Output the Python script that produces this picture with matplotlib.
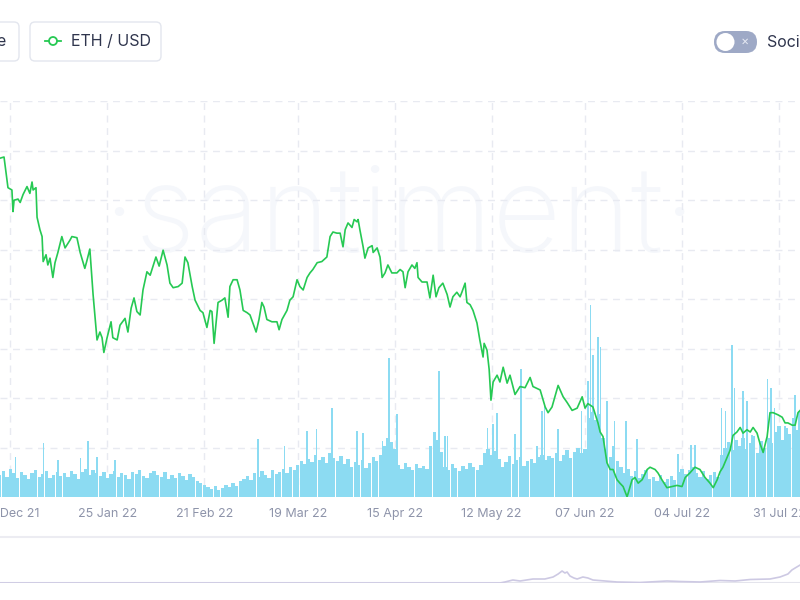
import numpy as np
import pandas as pd
import matplotlib
matplotlib.use("Agg")
import matplotlib.pyplot as plt
from matplotlib.patches import FancyBboxPatch, Circle

plt.rcParams['font.family'] = ['Inter', 'DejaVu Sans']

START = pd.Timestamp("2021-12-29")

# ETH / USD price, x = days since 29 Dec 21
eth_day = [-2.9, -1.8, -0.7, 0.4, 0.7, 1.0, 2.1, 2.7, 3.5, 4.6,
           5.4, 6.0, 6.3, 7.1, 7.4, 8.2, 8.8, 9.1, 9.9, 10.4,
           11.0, 11.8, 12.4, 13.2, 14.3, 15.2, 16.6, 17.1, 18.5, 19.4,
           20.7, 21.3, 22.1, 22.7, 23.0, 24.1, 24.9, 25.5, 26.0, 26.9,
           28.0, 28.5, 29.7, 30.5, 31.9, 32.7, 33.6, 34.4, 35.2, 36.1,
           36.9, 38.0, 38.9, 40.5, 41.4, 42.5, 43.6, 44.4, 45.3, 46.7,
           47.8, 48.6, 49.4, 50.6, 51.4, 52.8, 53.6, 54.7, 55.6, 56.1,
           56.7, 57.8, 58.9, 59.7, 60.6, 61.1, 62.0, 63.1, 63.9, 64.8,
           65.9, 66.7, 67.5, 68.4, 69.2, 70.0, 70.6, 71.4, 72.8, 74.2,
           74.8, 75.6, 77.0, 77.8, 78.7, 79.8, 80.6, 81.5, 82.6, 83.4,
           84.2, 85.4, 86.7, 88.1, 89.0, 89.8, 90.9, 91.8, 92.6, 93.2,
           94.0, 95.1, 95.7, 96.5, 96.8, 97.3, 98.2, 98.7, 99.6, 100.7,
           101.0, 102.1, 102.9, 103.5, 104.3, 105.1, 106.2, 107.6, 108.5, 109.3,
           109.9, 110.7, 111.8, 112.6, 113.2, 113.5, 114.6, 116.0, 116.8, 117.7,
           118.5, 119.3, 120.4, 121.6, 122.4, 123.2, 124.3, 125.2, 125.7, 126.6,
           127.1, 128.0, 128.8, 129.9, 130.7, 131.6, 131.9, 132.7, 133.3, 133.8,
           134.4, 135.5, 136.3, 137.2, 138.3, 139.1, 140.5, 141.9, 143.3, 144.7,
           145.5, 147.5, 148.9, 149.7, 150.8, 152.5, 153.9, 155.0, 156.4, 157.8,
           159.2, 160.0, 160.8, 162.2, 163.6, 164.2, 165.0, 166.1, 167.0, 167.8,
           168.9, 169.7, 170.6, 171.7, 172.0, 173.1, 173.9, 174.8, 175.9, 177.3,
           178.1, 179.5, 180.3, 181.4, 182.8, 184.2, 185.6, 187.0, 187.9, 189.2,
           190.6, 192.0, 193.4, 194.8, 195.7, 196.8, 197.6, 198.4, 199.6, 200.4,
           201.2, 202.3, 203.2, 204.0, 205.1, 206.0, 206.8, 207.9, 208.7, 209.6,
           210.7, 211.5, 212.4, 213.8, 214.9, 215.7, 216.5, 217.7, 218.5, 219.3, 219.9]
eth_price = [3990, 4000, 3730, 3710, 3520, 3620, 3630, 3600, 3670, 3740,
             3680, 3780, 3710, 3730, 3470, 3360, 3300, 3080, 3140, 3050,
             3110, 2940, 3070, 3160, 3300, 3200, 3270, 3300, 3290, 3160,
             3020, 3090, 3190, 2920, 2790, 2390, 2460, 2410, 2280, 2410,
             2550, 2410, 2390, 2520, 2580, 2460, 2670, 2760, 2640, 2610,
             2830, 2990, 2960, 3120, 3040, 3180, 3050, 2890, 2850, 2860,
             2890, 3120, 3070, 2860, 2740, 2650, 2630, 2500, 2650, 2640,
             2360, 2720, 2740, 2760, 2590, 2860, 2920, 2920, 2830, 2650,
             2630, 2610, 2540, 2460, 2570, 2720, 2680, 2570, 2550, 2550,
             2480, 2570, 2650, 2740, 2770, 2920, 2860, 2830, 2940, 2980,
             3010, 3070, 3080, 3120, 3300, 3340, 3330, 3330, 3210, 3360,
             3420, 3380, 3450, 3430, 3450, 3360, 3210, 3110, 3200, 3220,
             3160, 3200, 3120, 2940, 2980, 3050, 2980, 2980, 3010, 2990,
             2850, 2990, 3050, 3020, 3070, 2940, 2900, 2900, 2760, 2960,
             2770, 2850, 2890, 2790, 2680, 2770, 2810, 2770, 2810, 2890,
             2720, 2700, 2650, 2540, 2390, 2240, 2360, 2300, 2130, 1860,
             2020, 2080, 2020, 2150, 2010, 2080, 1910, 1980, 1970, 2060,
             1980, 1950, 1800, 1750, 1800, 1990, 1890, 1840, 1770, 1790,
             1890, 1790, 1830, 1800, 1660, 1580, 1540, 1310, 1250, 1250,
             1160, 1130, 1100, 1010, 1040, 1160, 1180, 1130, 1160, 1250,
             1270, 1250, 1220, 1160, 1090, 1100, 1110, 1100, 1180, 1220,
             1270, 1250, 1180, 1130, 1090, 1160, 1230, 1270, 1360, 1420,
             1550, 1580, 1620, 1570, 1600, 1580, 1620, 1570, 1480, 1400,
             1540, 1750, 1750, 1730, 1710, 1660, 1660, 1640, 1640, 1750, 1770]

# social volume, one bar per day from 26 Dec 21
vol_day = list(range(-3, 221))
vol_value = [22, 26, 20, 28, 24, 19, 25, 22,
             18, 24, 27, 20, 23, 26, 19, 22, 25, 21,
             24, 20, 26, 23, 18, 25, 28, 22, 27, 24,
             21, 25, 19, 23, 26, 20, 24, 22, 18, 25,
             23, 27, 21, 19, 24, 26, 22, 20, 25, 18,
             22, 19, 24, 21, 17, 23, 20, 16, 14, 12,
             10, 8, 11, 7, 9, 12, 10, 14, 11, 16,
             18, 21, 17, 24, 20, 26, 22, 19, 27, 23,
             25, 28, 24, 30, 27, 32, 36, 33, 38, 35,
             42, 37, 40, 34, 44, 39, 36, 41, 33, 38,
             30, 35, 32, 37, 29, 34, 40, 36, 42, 52,
             60, 56, 48, 32, 28, 34, 30, 27, 33, 29,
             31, 28, 52, 66, 58, 45, 30, 27, 33, 29,
             26, 31, 28, 34, 30, 27, 32, 44, 48, 42,
             46, 38, 30, 35, 41, 33, 37, 40, 31, 36,
             38, 34, 40, 42, 37, 41, 39, 44, 36, 42,
             47, 39, 45, 50, 44, 48, 80, 86, 78, 84,
             60, 48, 40, 52, 36, 30, 24, 28, 21, 26,
             19, 23, 27, 18, 20, 16, 22, 15, 18, 21,
             17, 25, 28, 23, 27, 30, 24, 20, 26, 18,
             22, 25, 20, 42, 50, 56, 47, 58, 52, 60,
             48, 55, 62, 44, 57, 50, 60, 55, 66, 72,
             58, 70, 64, 80, 68, 75]

# short-lived spikes in social volume
spike_day = [1.3, 9.1, 13.2, 19.4, 21.6, 24.1, 29.1, 68.9, 76.4, 82.6,
             85.3, 89.5, 96.5, 98.2, 103.5, 105.4, 107.6, 119.3, 121.0, 121.6,
             132.9, 134.4, 135.5, 140.5, 142.2, 146.6, 148.0, 148.8, 152.5, 159.1,
             160.8, 161.6, 162.2, 163.6, 164.4, 166.1, 168.3, 171.4, 174.5, 185.9,
             189.5, 190.6, 198.1, 199.2, 200.9, 201.7, 204.0, 205.1, 206.5, 210.9,
             211.8, 212.8, 215.7, 218.5, 219.6]
spike_value = [40, 55, 37, 39, 57, 40, 37, 59, 52, 67,
               69, 90, 67, 65, 57, 140, 84, 127, 62, 62,
               70, 74, 85, 64, 129, 52, 87, 95, 69, 87,
               117, 194, 143, 162, 152, 97, 77, 77, 59, 43,
               53, 53, 90, 87, 154, 110, 107, 97, 63, 119,
               110, 90, 72, 103, 87]

# navigator overview line
nav_day = [-2.9, 136.3, 137.7, 139.9, 141.9, 145.5, 148.8, 151.1, 152.5, 153.6,
           154.4, 155.0, 155.8, 156.9, 157.8, 159.4, 160.8, 162.2, 165.6, 168.9,
           175.3, 182.8, 186.4, 192.0, 197.6, 201.8, 206.0, 211.5, 214.3, 216.5,
           217.6, 218.5, 219.9]
nav_value = [0, 0, 1, 3, 2, 4, 4, 6, 9, 12,
             10, 11, 7, 5, 4, 6, 5, 3, 2, 1,
             0.5, 2, 1.5, 1, 2.5, 2, 3.5, 4, 6, 9,
             13, 15, 18]

tick_labels = ["29 Dec 21", "25 Jan 22", "21 Feb 22", "19 Mar 22", "15 Apr 22",
               "12 May 22", "07 Jun 22", "04 Jul 22", "31 Jul 22"]
tick_days = [(pd.to_datetime(t, format="%d %b %y") - START).days for t in tick_labels]

GREEN = "#26c953"
BAR = "#8cdbf2"
GRID = "#e8eaf1"
XLIM = (-2.92, 219.86)

fig = plt.figure(figsize=(8, 6), dpi=100)

# background layer: watermark, buttons, toggle (pixel coordinates)
bg = fig.add_axes([0, 0, 1, 1], zorder=0)
bg.set_xlim(0, 800)
bg.set_ylim(600, 0)
bg.axis("off")

bg.text(399, 252, "·santiment·", ha="center", va="baseline", fontsize=86,
        color="#f5f7fb", fontweight="light")

bg.add_patch(FancyBboxPatch((-20, 22), 39, 39, boxstyle="round,pad=0,rounding_size=5",
                            fc="white", ec="#e3e6ee", lw=1))
bg.text(6, 41.5, "Social Volume", ha="right", va="center", fontsize=11.5, color="#2f354d")
bg.add_patch(FancyBboxPatch((30, 22), 131, 39, boxstyle="round,pad=0,rounding_size=5",
                            fc="white", ec="#e3e6ee", lw=1))
bg.plot([45, 61], [41, 41], color=GREEN, lw=1.3)
bg.add_patch(Circle((53, 41), 4, fc="white", ec=GREEN, lw=1.3, zorder=3))
bg.text(71, 41.5, "ETH / USD", ha="left", va="center", fontsize=11.5, color="#2f354d")

bg.add_patch(FancyBboxPatch((714, 31), 43, 22, boxstyle="round,pad=0,rounding_size=11",
                            fc="#9ea9c6", ec="none"))
bg.add_patch(Circle((725.5, 42), 9, fc="white", ec="none", zorder=3))
bg.text(745, 42, "×", ha="center", va="center", fontsize=9, color="#e4e8f2")
bg.text(767, 42.5, "Social context", ha="left", va="center", fontsize=11.5, color="#2f354d")

bg.axhline(537, color="#ececf2", lw=1.5)

# main chart: social volume bars + grid
ax = fig.add_axes([0, 1 - 497 / 600, 1, 396 / 600], zorder=1)
ax.patch.set_alpha(0)
ax.bar(vol_day, vol_value, width=0.92, color=BAR, linewidth=0, zorder=2)
ax.bar(spike_day, spike_value, width=0.35, color=BAR, linewidth=0, zorder=2)
ax.set_xlim(*XLIM)
ax.set_ylim(0, 400)
ax.set_yticks(range(50, 401, 50))
ax.set_xticks(tick_days, tick_labels)
ax.tick_params(axis="x", length=0, pad=8, labelsize=9, labelcolor="#8e94aa")
ax.tick_params(axis="y", length=0, labelleft=False)
ax.grid(True, color=GRID, linestyle=(0, (5, 4)), linewidth=1, zorder=0)
ax.set_axisbelow(True)
for s in ax.spines.values():
    s.set_visible(False)

# ETH price on its own scale
ax2 = ax.twinx()
ax2.plot(eth_day, eth_price, color=GREEN, lw=1.2, zorder=3)
ax2.set_xlim(*XLIM)
ax2.set_ylim(1008, 4493)
ax2.axis("off")

# navigator strip
nav = fig.add_axes([0, 1 - 583 / 600, 1, 40 / 600], zorder=1)
nav.axhline(0, color="#e4e4ec", lw=1.5)
nav.plot(nav_day, nav_value, color="#cdc9e3", lw=1.2)
nav.set_xlim(*XLIM)
nav.set_ylim(0, 40)
nav.axis("off")

fig.savefig("out.png", dpi=100)
